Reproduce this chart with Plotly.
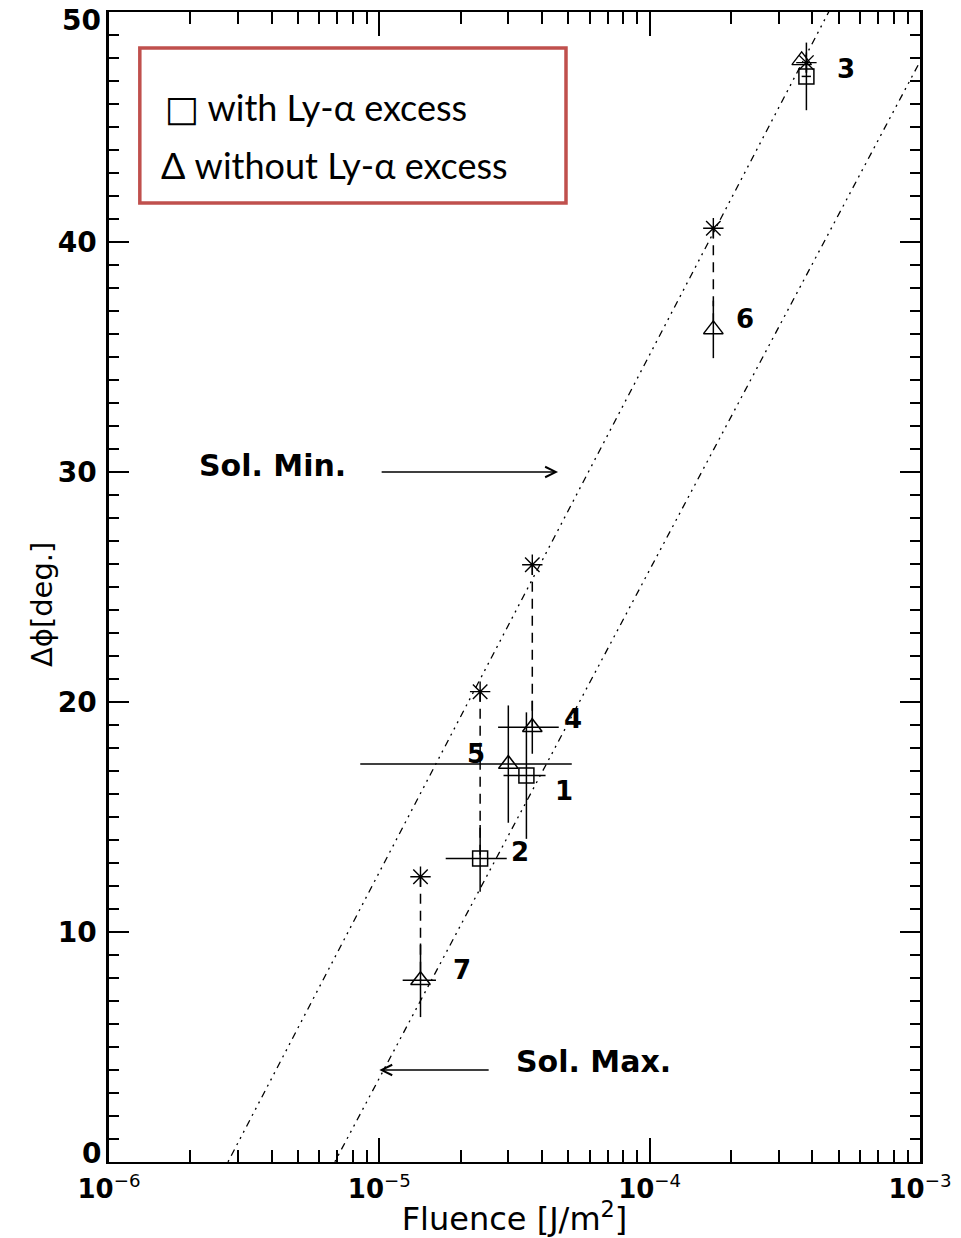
import numpy as np
import plotly.graph_objects as go

# ---- event data ----------------------------------------------------------
event_id = ["1", "2", "3", "4", "5", "6", "7"]
fluence = [3.50e-5, 2.36e-5, 3.80e-4, 3.68e-5, 3.00e-5, 1.72e-4, 1.42e-5]      # J/m^2
fluence_err = [0.62e-5, 0.60e-5, 0.15e-4, 0.93e-5, 2.15e-5, 0.0, 0.20e-5]
dphi = [16.8, 13.2, 47.2, 18.9, 17.3, 36.2, 7.9]                              # deg
dphi_err = [2.75, 1.45, 1.47, 1.15, 2.55, 1.25, 1.6]
ly_alpha_excess = [True, True, True, False, False, False, False]
# model estimate for each event (None where not computed)
dphi_model = [None, 20.45, 47.8, 25.97, None, 40.6, 12.4]
# event 3 value without the Ly-alpha excess
extra_fluence = [3.65e-4]
extra_dphi = [47.9]

# label offsets in pixels (dx, dy) relative to each event's marker
label_dx = [38, 40, 40, 41, -32, 32, 41]
label_dy = [-15, 6, 7, 8, 10, 10, 10]

# y-axis labels: inner ones as tick labels, the two end ones nudged inward
y_inner_ticks = [10, 20, 30, 40]
y_end_ticks = [0, 50]
y_end_shift = [9, -8]

# linear-in-log reference relations: dphi = slope * (log10 F - log10 F0)
sol_min_F0, sol_min_slope = 10 ** -5.56, 22.5
sol_max_F0, sol_max_slope = 10 ** -5.165, 22.1

line_F = [1e-6, 1e-3]

FONT = "DejaVu Sans"


def rel(F0, slope, F):
    return [slope * (np.log10(f) - np.log10(F0)) for f in F]


fig = go.Figure()

dashdot = "7px,5px,2px,5px,2px,5px,2px,5px"
fig.add_trace(go.Scatter(x=line_F, y=rel(sol_min_F0, sol_min_slope, line_F),
                         mode="lines", line=dict(color="black", width=1.3, dash=dashdot),
                         hoverinfo="skip", showlegend=False))
fig.add_trace(go.Scatter(x=line_F, y=rel(sol_max_F0, sol_max_slope, line_F),
                         mode="lines", line=dict(color="black", width=1.3, dash=dashdot),
                         hoverinfo="skip", showlegend=False))

# dashed connectors from model estimate to measured value
cx, cy = [], []
for f, m, d in zip(fluence, dphi_model, dphi):
    if m is not None:
        cx += [f, f, None]
        cy += [m, d, None]
fig.add_trace(go.Scatter(x=cx, y=cy, mode="lines",
                         line=dict(color="black", width=1.5, dash="10px,7px"),
                         hoverinfo="skip", showlegend=False))


def subset(mask):
    idx = [i for i, m in enumerate(mask) if m]
    return ([fluence[i] for i in idx], [dphi[i] for i in idx],
            [fluence_err[i] for i in idx], [dphi_err[i] for i in idx])


for flag, sym, size in [(True, "square-open", 15), (False, "triangle-up-open", 17)]:
    fx, fy, ex, ey = subset([e == flag for e in ly_alpha_excess])
    fig.add_trace(go.Scatter(
        x=fx, y=fy, mode="markers",
        marker=dict(symbol=sym, size=size, color="black", line=dict(color="black", width=1.5)),
        error_x=dict(type="data", array=ex, visible=True, color="black", thickness=1.5, width=0),
        error_y=dict(type="data", array=ey, visible=True, color="black", thickness=1.5, width=0),
        showlegend=False))

fig.add_trace(go.Scatter(
    x=extra_fluence, y=extra_dphi, mode="markers",
    marker=dict(symbol="triangle-up-open", size=17, color="black", line=dict(color="black", width=1.3)),
    showlegend=False))

mx = [f for f, m in zip(fluence, dphi_model) if m is not None]
my = [m for m in dphi_model if m is not None]
fig.add_trace(go.Scatter(
    x=mx, y=my, mode="markers",
    marker=dict(symbol="asterisk-open", size=17, color="black", line=dict(color="black", width=1.4)),
    showlegend=False))

# event number labels
for lab, f, d, dx, dy in zip(event_id, fluence, dphi, label_dx, label_dy):
    fig.add_annotation(x=np.log10(f), y=d, text="<b>" + lab + "</b>", showarrow=False,
                       xshift=dx, yshift=dy, font=dict(family=FONT, size=26, color="black"))

# solar min / max pointers
fig.add_annotation(x=np.log10(10 ** -4.339), y=30, ax=np.log10(10 ** -4.997), ay=30,
                   axref="x", ayref="y", text="", showarrow=True,
                   arrowhead=5, arrowsize=1.6, arrowwidth=1.3, arrowcolor="black")
fig.add_annotation(x=np.log10(10 ** -5.397), y=30.3, text="<b>Sol. Min.</b>", showarrow=False,
                   font=dict(family=FONT, size=30, color="black"))
fig.add_annotation(x=np.log10(1e-5), y=4.0, ax=np.log10(10 ** -4.590), ay=4.0,
                   axref="x", ayref="y", text="", showarrow=True,
                   arrowhead=5, arrowsize=1.6, arrowwidth=1.3, arrowcolor="black")
fig.add_annotation(x=np.log10(10 ** -4.206), y=4.35, text="<b>Sol. Max.</b>", showarrow=False,
                   font=dict(family=FONT, size=30, color="black"))

# key box
fig.add_shape(type="rect", xref="x domain", yref="y domain",
              x0=0.038, x1=0.5635, y0=0.834, y1=0.9687,
              line=dict(color="#c0504d", width=3.5), fillcolor="white", layer="above")
fig.add_annotation(xref="x domain", yref="y domain", x=0.066, y=0.917,
                   xanchor="left", yanchor="middle",
                   text="<span style='font-family:DejaVu Sans'>\u25a1</span> with Ly-\u03b1 excess",
                   showarrow=False, font=dict(family="Lato", size=36, color="black"))
fig.add_annotation(xref="x domain", yref="y domain", x=0.062, y=0.867,
                   xanchor="left", yanchor="middle",
                   text="\u0394 without Ly-\u03b1 excess", showarrow=False,
                   font=dict(family="Lato", size=36, color="black"))

# end labels of the y axis
for v, s in zip(y_end_ticks, y_end_shift):
    fig.add_annotation(xref="x domain", x=0, y=v, xanchor="right", yanchor="middle",
                       xshift=-6, yshift=s, text="<b>%d</b>" % v, showarrow=False,
                       font=dict(family=FONT, size=28, color="black"))

# y-axis title, left of the tick labels
fig.add_annotation(xref="x domain", yref="y domain", x=-0.0826, y=0.4843,
                   xanchor="center", yanchor="middle", textangle=-90,
                   text="\u0394\u03d5[deg.]", showarrow=False,
                   font=dict(family=FONT, size=29, color="black"))

decades = [1e-6, 1e-5, 1e-4, 1e-3]
decade_text = ["<b>10</b><sup>\u22126</sup>", "<b>10</b><sup>\u22125</sup>",
               "<b>10</b><sup>\u22124</sup>", "<b>10</b><sup>\u22123</sup>"]
minor_vals = [m * d for d in decades[:-1] for m in range(2, 10)]

fig.update_xaxes(type="log", range=[-6, -3], showgrid=False, zeroline=False, automargin=False,
                 showline=True, linecolor="black", linewidth=2, mirror="allticks",
                 ticks="inside", ticklen=24, tickwidth=1.5, tickcolor="black",
                 tickmode="array", tickvals=decades, ticktext=decade_text,
                 ticklabelstandoff=3, ticklabeloverflow="allow",
                 tickfont=dict(family=FONT, size=26, color="black"),
                 minor=dict(tickmode="array", tickvals=minor_vals, ticks="inside",
                            ticklen=12, tickwidth=1.5, tickcolor="black", showgrid=False),
                 title=dict(text="Fluence [J/m<sup>2</sup>]", standoff=3,
                            font=dict(family=FONT, size=32, color="black")))

# major y ticks at every 10 (labels only on the inner ones), minor every 1
fig.update_yaxes(range=[0, 50], showgrid=False, zeroline=False, automargin=False,
                 showline=True, linecolor="black", linewidth=2.5, mirror="allticks",
                 ticks="inside", ticklen=20, tickwidth=1.5, tickcolor="black",
                 tickmode="array", tickvals=y_end_ticks + y_inner_ticks,
                 ticktext=["", ""] + ["<b>%d</b>" % v for v in y_inner_ticks],
                 ticklabelstandoff=4, ticklabeloverflow="allow",
                 tickfont=dict(family=FONT, size=28, color="black"),
                 minor=dict(dtick=1, ticks="inside", ticklen=10, tickwidth=1.5,
                            tickcolor="black", showgrid=False))

fig.update_layout(width=961, height=1238, autosize=False,
                  margin=dict(l=109, r=41, t=12, b=76),
                  paper_bgcolor="white", plot_bgcolor="white", showlegend=False)

fig.write_html("out.html")
